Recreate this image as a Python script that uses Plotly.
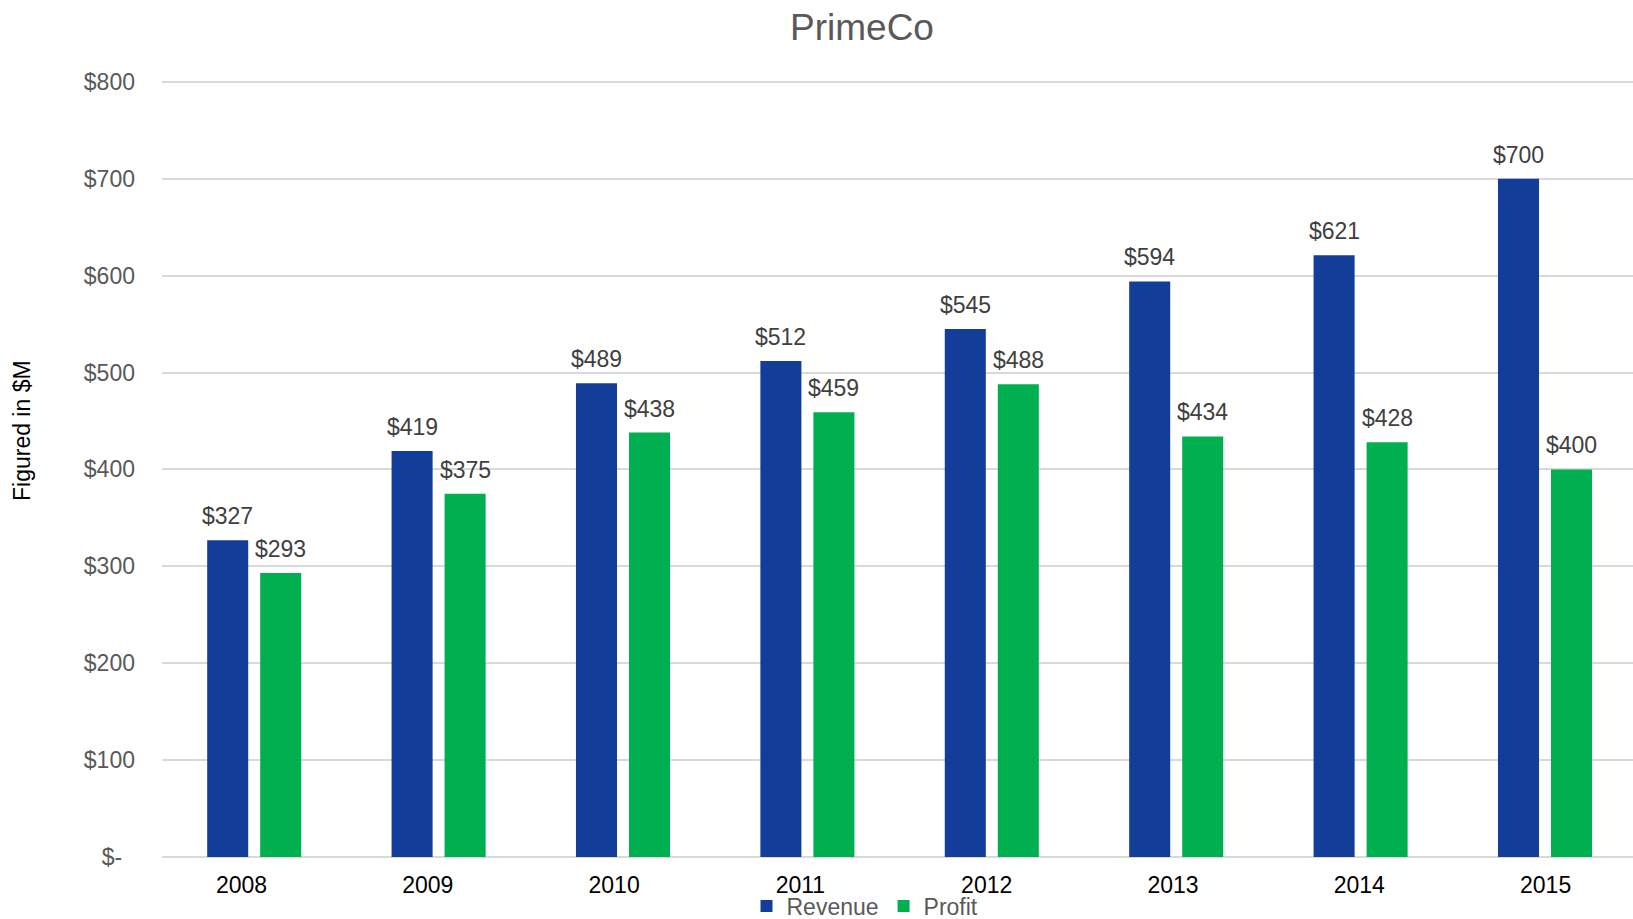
import plotly.graph_objects as go

# Annual figures for PrimeCo, in millions of dollars
years = ["2008", "2009", "2010", "2011", "2012", "2013", "2014", "2015"]
revenue = [327, 419, 489, 512, 545, 594, 621, 700]
profit = [293, 375, 438, 459, 488, 434, 428, 400]

y_tick_vals = [0, 100, 200, 300, 400, 500, 600, 700, 800]
y_tick_text = ["$-\u00a0\u00a0", "$100", "$200", "$300", "$400", "$500", "$600", "$700", "$800"]

FONT = "Arial, 'Liberation Sans', sans-serif"
BLUE = "#123D99"
GREEN = "#00B050"

W, H = 1633, 919
Y_MAX = 805
M_L, M_R, M_B = 162, 0, 62
PX_PER_UNIT = (H - M_B - 82) / 800.0
M_T = round(82 - (Y_MAX - 800) * PX_PER_UNIT)
PW = W - M_L - M_R
PH = H - M_T - M_B

CAT_PX = 184.4      # width of one year slot on the bar axis
LABEL_PX = 186.3    # spacing of the year labels
BAR_SHIFT = 26.5    # half the distance between the two bar centres in a group

fig = go.Figure()
for name, vals, color in [("Revenue", revenue, BLUE), ("Profit", profit, GREEN)]:
    fig.add_trace(go.Bar(
        x=years, y=vals, name=name,
        marker=dict(color=color, line=dict(width=0)),
    ))

# value labels above each bar (x given as the category index)
annotations = []
for vals, shift in [(revenue, -BAR_SHIFT), (profit, BAR_SHIFT)]:
    for i, v in enumerate(vals):
        annotations.append(dict(
            x=i, y=v, xref="x", yref="y", text=f"${v}", showarrow=False,
            xanchor="center", yanchor="bottom", xshift=shift, yshift=9,
            font=dict(family=FONT, size=23, color="#404040"),
        ))

annotations.append(dict(
    text="Figured in $M", textangle=-90, showarrow=False,
    xref="paper", yref="paper",
    x=(22 - M_L) / PW, y=(H - M_B - 431) / PH,
    xanchor="center", yanchor="middle",
    font=dict(family=FONT, size=23, color="#000000"),
))

label_start = -(241.5 - M_L) / LABEL_PX

fig.update_layout(
    width=W, height=H,
    margin=dict(l=M_L, r=M_R, t=M_T, b=M_B, autoexpand=False),
    paper_bgcolor="white", plot_bgcolor="white",
    barmode="group", bargap=0.425, bargroupgap=0.226,
    font=dict(family=FONT, size=23, color="#595959"),
    title=dict(
        text="PrimeCo", x=862 / W, xref="container", xanchor="center",
        y=1 - 27 / H, yref="container", yanchor="middle",
        font=dict(family=FONT, size=37, color="#595959"),
    ),
    xaxis=dict(
        type="category", range=[-0.5, -0.5 + PW / CAT_PX],
        showgrid=False, showline=False, zeroline=False, ticks="",
        showticklabels=False,
    ),
    xaxis2=dict(
        type="linear", overlaying="x", anchor="y", side="bottom",
        range=[label_start, label_start + PW / LABEL_PX],
        tickvals=list(range(len(years))), ticktext=years,
        showgrid=False, showline=False, zeroline=False, ticks="",
        tickfont=dict(family=FONT, size=23, color="#000000"),
        ticklabelstandoff=12,
    ),
    yaxis=dict(
        range=[0, Y_MAX], tickvals=y_tick_vals, ticktext=y_tick_text,
        showgrid=True, gridcolor="#D9D9D9", gridwidth=1.5,
        zeroline=True, zerolinecolor="#D9D9D9", zerolinewidth=1.5,
        showline=False, ticks="",
        tickfont=dict(family=FONT, size=23, color="#595959"),
        ticklabelstandoff=26,
    ),
    legend=dict(
        orientation="h", x=(865 - M_L) / PW, xref="paper", xanchor="center",
        y=-(906 - (H - M_B)) / PH, yref="paper", yanchor="middle",
        font=dict(family=FONT, size=23, color="#595959"),
        bgcolor="rgba(0,0,0,0)",
        itemwidth=30, traceorder="normal",
    ),
    showlegend=True,
    annotations=annotations,
)

# an empty trace keeps the label axis active
fig.add_trace(go.Scatter(x=[], y=[], xaxis="x2", yaxis="y", showlegend=False, hoverinfo="skip"))

fig.write_html("out.html")
